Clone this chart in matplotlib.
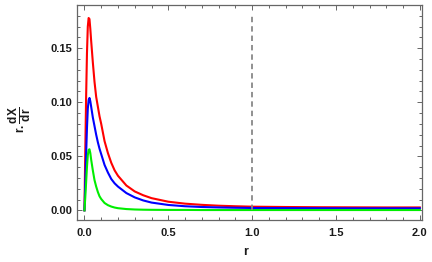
import matplotlib
import matplotlib.pyplot as plt
from matplotlib.ticker import MultipleLocator, FormatStrFormatter

matplotlib.use("agg")

# values
r = [0.0, 0.005, 0.01, 0.015, 0.02, 0.025, 0.03, 0.035, 0.04, 0.05,
     0.06, 0.07, 0.08, 0.09, 0.1, 0.12, 0.14, 0.16, 0.18, 0.2,
     0.25, 0.3, 0.35, 0.4, 0.5, 0.6, 0.7, 0.8, 0.9, 1.0,
     1.2, 1.4, 1.6, 1.8, 2.0]

red = [0.0, 0.055, 0.105, 0.145, 0.170, 0.178, 0.177, 0.168, 0.157, 0.137,
       0.119, 0.105, 0.096, 0.087, 0.080, 0.064, 0.053, 0.044, 0.037, 0.032,
       0.023, 0.0175, 0.014, 0.0113, 0.0080, 0.0062, 0.0051, 0.0043, 0.0038, 0.0034,
       0.0031, 0.0029, 0.0028, 0.0027, 0.0027]

blue = [0.0, 0.025, 0.052, 0.076, 0.094, 0.102, 0.104, 0.101, 0.096, 0.086,
        0.078, 0.070, 0.063, 0.057, 0.052, 0.042, 0.035, 0.029, 0.025, 0.022,
        0.016, 0.012, 0.0092, 0.0072, 0.0050, 0.0038, 0.0031, 0.0027, 0.0024, 0.0022,
        0.0021, 0.0020, 0.0019, 0.0019, 0.0019]

green = [0.0, 0.012, 0.026, 0.040, 0.051, 0.056, 0.0565, 0.053, 0.047, 0.037,
         0.028, 0.022, 0.017, 0.013, 0.0105, 0.0068, 0.0048, 0.0035, 0.0026, 0.0020,
         0.0012, 0.0008, 0.0006, 0.0005, 0.0004, 0.0004, 0.0003, 0.0003, 0.0003, 0.0003,
         0.0003, 0.0003, 0.0003, 0.0003, 0.0003]

r_mark = 1.0
mark_top = 0.18

plt.rcParams["font.family"] = "Liberation Sans"
plt.rcParams["mathtext.fontset"] = "custom"
plt.rcParams["mathtext.rm"] = "Liberation Sans:bold"
plt.rcParams["mathtext.bf"] = "Liberation Sans:bold"
plt.rcParams["mathtext.it"] = "Liberation Sans:bold"

frame = "#666666"
text = "#1a1a1a"

fig = plt.figure(figsize=(4.32, 2.62), dpi=100)
ax = fig.add_axes([0.178, 0.160, 0.800, 0.820])

ax.plot(r, red, color="#ff0000", lw=1.5)
ax.plot(r, blue, color="#0000ff", lw=1.5)
ax.plot(r, green, color="#00ee00", lw=1.5)
ax.plot([r_mark, r_mark], [0, mark_top], color="#888888", lw=1.3,
        dashes=(3, 2.2))

ax.set_xlim(-0.045, 2.016)
ax.set_ylim(-0.009, 0.1898)

ax.xaxis.set_major_locator(MultipleLocator(0.5))
ax.xaxis.set_minor_locator(MultipleLocator(0.1))
ax.yaxis.set_major_locator(MultipleLocator(0.05))
ax.yaxis.set_minor_locator(MultipleLocator(0.01))
ax.xaxis.set_major_formatter(FormatStrFormatter("%.1f"))
ax.yaxis.set_major_formatter(FormatStrFormatter("%.2f"))

ax.tick_params(which="both", direction="in", top=True, right=True,
               color=frame, width=0.7, labelcolor=text, labelsize=8)
ax.tick_params(which="major", length=3.5)
ax.tick_params(which="minor", length=2)
ax.tick_params(axis="x", pad=6)
ax.tick_params(axis="y", pad=3)
for lab in ax.get_xticklabels() + ax.get_yticklabels():
    lab.set_fontweight("bold")

for s in ax.spines.values():
    s.set_color(frame)
    s.set_linewidth(0.9)

ax.set_xlabel("r", fontsize=9, fontweight="bold", color=text, va="center")
ax.xaxis.set_label_coords(0.487, -0.15)
ax.set_ylabel(r"$\mathbf{r.}\dfrac{\mathbf{dX}}{\mathbf{dr}}$", fontsize=8.5,
              color=text, va="center")
ax.yaxis.set_label_coords(-0.165, 0.47)

fig.savefig("out.png", dpi=100)
plt.close(fig)
